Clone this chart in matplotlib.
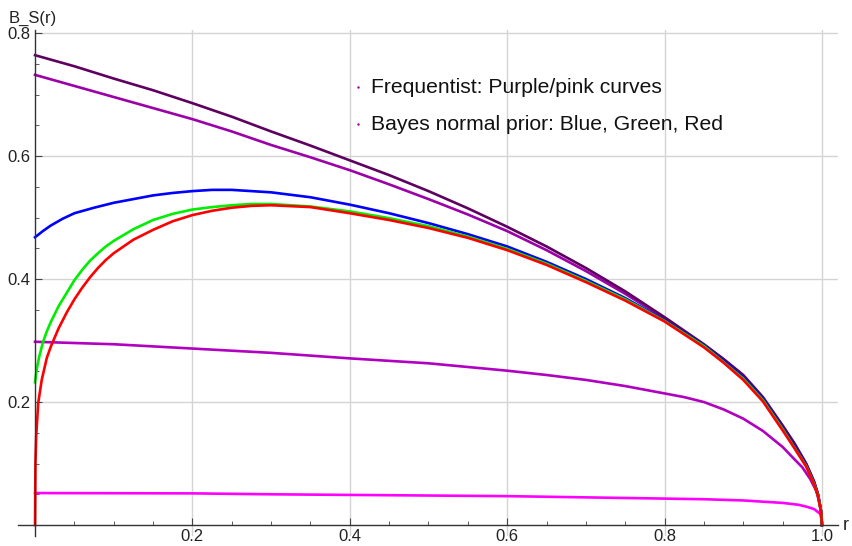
import numpy as np
import matplotlib.pyplot as plt

plt.rcParams['font.family'] = ['Liberation Sans', 'DejaVu Sans']

# values
r_dark = [0, 0.05, 0.1, 0.15, 0.2, 0.25, 0.3, 0.35, 0.4, 0.45, 0.5, 0.55, 0.6, 0.65, 0.7, 0.75,
          0.8, 0.85, 0.875, 0.9, 0.925, 0.95, 0.965, 0.98, 0.99, 0.995, 0.999, 1.0]
y_dark = [0.764, 0.746, 0.726, 0.707, 0.686, 0.664, 0.640, 0.617, 0.593, 0.569, 0.543, 0.515, 0.485, 0.453, 0.418, 0.380,
          0.338, 0.294, 0.270, 0.244, 0.208, 0.162, 0.133, 0.100, 0.071, 0.050, 0.022, 0.0]

r_med = [0, 0.05, 0.1, 0.15, 0.2, 0.25, 0.3, 0.35, 0.4, 0.45, 0.5, 0.55, 0.6, 0.65, 0.7, 0.75,
         0.8, 0.85, 0.875, 0.9, 0.925, 0.95, 0.965, 0.98, 0.99, 0.995, 0.999, 1.0]
y_med = [0.732, 0.714, 0.696, 0.678, 0.660, 0.640, 0.618, 0.598, 0.577, 0.554, 0.530, 0.505, 0.478, 0.447, 0.413, 0.376,
         0.336, 0.293, 0.269, 0.243, 0.207, 0.161, 0.132, 0.099, 0.070, 0.050, 0.022, 0.0]

r_pur = [0, 0.1, 0.2, 0.3, 0.4, 0.5, 0.6, 0.65, 0.7, 0.75, 0.8, 0.825, 0.85, 0.875, 0.9, 0.925,
         0.95, 0.965, 0.975, 0.985, 0.993, 0.998, 1.0]
y_pur = [0.298, 0.294, 0.287, 0.280, 0.271, 0.263, 0.251, 0.244, 0.236, 0.226, 0.214, 0.208, 0.200, 0.188, 0.173, 0.153,
         0.127, 0.107, 0.094, 0.075, 0.055, 0.030, 0.0]

r_mag = [0, 0.2, 0.3, 0.4, 0.5, 0.6, 0.7, 0.8, 0.85, 0.9, 0.925, 0.95, 0.97, 0.98, 0.99, 0.998, 1.0]
y_mag = [0.052, 0.0515, 0.050, 0.049, 0.048, 0.047, 0.045, 0.043, 0.042, 0.040, 0.038, 0.036, 0.033, 0.030, 0.026, 0.018, 0.005]

r_blue = [0, 0.01, 0.02, 0.035, 0.05, 0.075, 0.1, 0.125, 0.15, 0.175, 0.2, 0.225, 0.25, 0.275, 0.3, 0.35,
          0.4, 0.45, 0.5, 0.55, 0.6, 0.65, 0.7, 0.75, 0.8, 0.85, 0.875, 0.9, 0.925, 0.95, 0.965, 0.98,
          0.99, 0.995, 0.999, 1.0]
y_blue = [0.468, 0.478, 0.487, 0.498, 0.507, 0.516, 0.524, 0.530, 0.536, 0.540, 0.543, 0.545, 0.545, 0.543, 0.541, 0.533,
          0.521, 0.507, 0.491, 0.473, 0.453, 0.428, 0.400, 0.369, 0.333, 0.292, 0.267, 0.240, 0.205, 0.157, 0.128, 0.097,
          0.068, 0.049, 0.021, 0.0]

r_green = [0, 0.002, 0.005, 0.01, 0.015, 0.02, 0.03, 0.04, 0.05, 0.06, 0.07, 0.08, 0.09, 0.1, 0.125, 0.15,
           0.175, 0.2, 0.225, 0.25, 0.275, 0.3, 0.35, 0.4, 0.45, 0.5, 0.55, 0.6, 0.65, 0.7, 0.75, 0.8,
           0.85, 0.875, 0.9, 0.925, 0.95, 0.965, 0.98, 0.99, 0.995, 0.999, 1.0]
y_green = [0.232, 0.252, 0.272, 0.297, 0.315, 0.330, 0.356, 0.377, 0.398, 0.415, 0.430, 0.442, 0.453, 0.462, 0.481, 0.496,
           0.506, 0.513, 0.517, 0.520, 0.522, 0.522, 0.518, 0.510, 0.499, 0.486, 0.469, 0.449, 0.425, 0.397, 0.367, 0.332,
           0.291, 0.265, 0.238, 0.203, 0.156, 0.126, 0.096, 0.067, 0.048, 0.021, 0.0]

r_red = [0, 0.0005, 0.0015, 0.004, 0.0085, 0.015, 0.02, 0.03, 0.04, 0.05, 0.06, 0.07, 0.08, 0.09, 0.1, 0.125,
         0.15, 0.175, 0.2, 0.225, 0.25, 0.275, 0.3, 0.35, 0.4, 0.45, 0.5, 0.55, 0.6, 0.65, 0.7, 0.75,
         0.8, 0.85, 0.875, 0.9, 0.925, 0.95, 0.965, 0.98, 0.99, 0.995, 0.999, 1.0]
y_red = [0.0, 0.10, 0.145, 0.198, 0.236, 0.272, 0.290, 0.320, 0.345, 0.367, 0.386, 0.403, 0.418, 0.431, 0.442, 0.464,
         0.480, 0.494, 0.504, 0.511, 0.516, 0.519, 0.520, 0.517, 0.507, 0.496, 0.483, 0.467, 0.447, 0.423, 0.395, 0.365,
         0.331, 0.289, 0.264, 0.236, 0.201, 0.154, 0.125, 0.095, 0.066, 0.047, 0.020, 0.0]

x_ticks = [0.2, 0.4, 0.6, 0.8, 1.0]
y_ticks = [0.2, 0.4, 0.6, 0.8]
notes = ["Frequentist: Purple/pink curves", "Bayes normal prior: Blue, Green, Red"]

fig = plt.figure(figsize=(8.52, 5.46), dpi=100)
ax = fig.add_axes([0.0208, 0.0181, 0.9624, 0.927])
ax.set_xlim(-0.022, 1.02)
ax.set_ylim(-0.018, 0.805)

# grid (mathematica style)
for x in x_ticks:
    ax.axvline(x, color='#d4d4d4', lw=1, zorder=0)
for y in y_ticks:
    ax.plot([0, 1.02], [y, y], color='#d4d4d4', lw=1, zorder=0)

lw = 1.9
ax.plot(r_mag, y_mag, color='#ff00ff', lw=lw)
ax.plot(r_pur, y_pur, color='#b000c0', lw=lw)
ax.plot(r_med, y_med, color='#9c00a8', lw=lw)
ax.plot(r_dark, y_dark, color='#5e0060', lw=lw)
ax.plot(r_blue, y_blue, color='#0000ff', lw=lw)
ax.plot(r_green, y_green, color='#00ee00', lw=lw)
ax.plot(r_red, y_red, color='#ff0000', lw=lw)

for s in ['top', 'right']:
    ax.spines[s].set_visible(False)
ax.spines['left'].set_position(('data', 0))
ax.spines['bottom'].set_position(('data', 0))
for s in ['left', 'bottom']:
    ax.spines[s].set_color('#333333')
    ax.spines[s].set_linewidth(1.0)

ax.set_xticks(x_ticks)
ax.set_xticklabels(['%.1f' % v for v in x_ticks])
ax.set_yticks(y_ticks)
ax.set_yticklabels(['%.1f' % v for v in y_ticks])
ax.set_xticks(np.arange(0.05, 1.0, 0.05), minor=True)
ax.set_yticks(np.arange(0.05, 0.8, 0.05), minor=True)
ax.tick_params(which='major', direction='in', length=5, width=0.8, color='#444444',
               labelsize=12, labelcolor='#222222', pad=3)
ax.tick_params(which='minor', direction='in', length=3, width=0.6, color='#444444')

ax.text(-0.033, 0.812, 'B_S(r)', fontsize=12, color='#222222', ha='left', va='bottom')
ax.text(1.026, 0.0, 'r', fontsize=13, color='#222222', ha='left', va='center')

ax.plot([0.41, 0.41], [0.712, 0.652], ls='none', marker='.', ms=1.5, color='#9c00a8')
ax.text(0.427, 0.712, notes[0], fontsize=15.2, color='#111111', va='center')
ax.text(0.427, 0.652, notes[1], fontsize=15.2, color='#111111', va='center')

fig.savefig('out.png', dpi=100)
